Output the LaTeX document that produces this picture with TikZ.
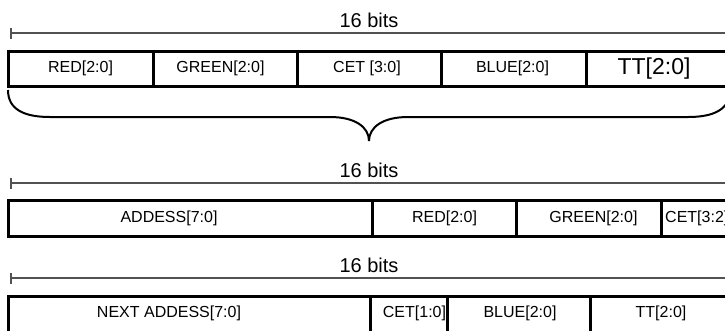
\documentclass[tikz,border=0pt]{standalone}
\usepackage{fontspec}
\setmainfont{Liberation Sans}
\usetikzlibrary{arrows.meta}
\tikzset{
  field/.style={line width=3pt},
  scaleline/.style={draw=black!68, line width=1.5pt, {Bar[width=11pt]}-},
  lbl/.style={font=\fontsize{16}{19}\selectfont, inner sep=0pt},
  biglbl/.style={font=\fontsize{23}{27}\selectfont, inner sep=0pt},
  bitslbl/.style={font=\fontsize{20}{24}\selectfont, inner sep=0pt}
}
\begin{document}
\begin{tikzpicture}[x=1pt,y=-1pt]
\useasboundingbox (0,0) rectangle (725,330);
% first word
\coordinate (l1) at (10,33);
\coordinate (r1) at (728,33);
\draw[scaleline] (l1) -- (r1);
\node[bitslbl] (bits1) at (369,20) {16 bits};
\draw[field] (8,51) rectangle (730,86);
\foreach \x in {153,297,441,586}{
\draw[field] (\x,51) -- (\x,86);
}
\node[lbl] (red1) at (80.5,68.5) {RED[2:0]};
\node[lbl] (green1) at (220.5,68.5) {GREEN[2:0]};
\node[lbl] (cet1) at (367,68.5) {CET [3:0]};
\node[lbl] (blue1) at (512.5,68.5) {BLUE[2:0]};
\node[biglbl] (tt1) at (654,68.5) {TT[2:0]};
% brace
\draw[line width=2pt] (8,90) .. controls (8,110) and (25,117) .. (50,117) -- (330,117)
  .. controls (355,117) and (369,127) .. (369,141);
\draw[line width=2pt] (730,90) .. controls (730,110) and (713,117) .. (688,117) -- (408,117)
  .. controls (383,117) and (369,127) .. (369,141);
% second word
\coordinate (l2) at (10,183);
\coordinate (r2) at (728,183);
\draw[scaleline] (l2) -- (r2);
\node[bitslbl] (bits2) at (369,170) {16 bits};
\draw[field] (8,200) rectangle (730,236.5);
\foreach \x in {372,516,661}{
\draw[field] (\x,200) -- (\x,236.5);
}
\node[lbl] (addr2) at (169,218) {ADDESS[7:0]};
\node[lbl] (red2) at (444.5,218) {RED[2:0]};
\node[lbl] (green2) at (593.5,218) {GREEN[2:0]};
\node[lbl,anchor=west] (cet2) at (665,218) {CET[3:2]};
% third word
\coordinate (l3) at (10,278);
\coordinate (r3) at (728,278);
\draw[scaleline] (l3) -- (r3);
\node[bitslbl] (bits3) at (369,265) {16 bits};
\draw[field] (8,296) rectangle (730,334);
\foreach \x in {370,447,590}{
\draw[field] (\x,296) -- (\x,334);
}
\node[lbl] (next3) at (169,313) {NEXT ADDESS[7:0]};
\node[lbl] (cet3) at (414.5,313) {CET[1:0]};
\node[lbl] (blue3) at (520,313) {BLUE[2:0]};
\node[lbl] (tt3) at (661,313) {TT[2:0]};
\end{tikzpicture}
\end{document}
